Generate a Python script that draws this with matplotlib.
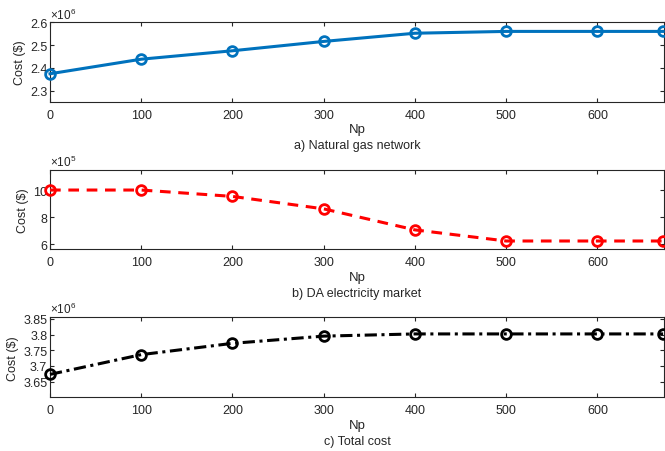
import matplotlib
matplotlib.use('Agg')
import matplotlib.pyplot as plt

plt.rcParams['font.family'] = ['Liberation Sans', 'DejaVu Sans']
plt.rcParams['mathtext.fontset'] = 'custom'
plt.rcParams['mathtext.rm'] = 'Liberation Sans'

# 数据
np_vals = [0, 100, 200, 300, 400, 500, 600, 672]
gas_cost = [2.374, 2.438, 2.475, 2.516, 2.552, 2.560, 2.560, 2.560]      # x1e6
da_cost = [10.0, 10.0, 9.53, 8.61, 7.06, 6.24, 6.24, 6.24]               # x1e5
total_cost = [3.673, 3.736, 3.772, 3.795, 3.802, 3.802, 3.802, 3.802]   # x1e6

x_ticks = [0, 100, 200, 300, 400, 500, 600]
TXT = '#262626'

W, H = 665, 452
fig = plt.figure(figsize=(W / 100, H / 100), dpi=100)


def px_axes(top, bottom, left=50, right=664):
    return fig.add_axes([left / W, 1 - bottom / H, (right - left) / W, (bottom - top) / H])


panels = [
    # top, bottom, data, color, ls, ylim, yticks, ticklabels, exp, np_y, cap_y, caption
    (23.3, 103, gas_cost, '#0072BD', '-', (2.25, 2.6), [2.3, 2.4, 2.5, 2.6],
     ['2.3', '2.4', '2.5', '2.6'], '6', 130, 146, 'a) Natural gas network'),
    (170.7, 250, da_cost, '#FF0000', (0, (3.5, 2.5)), (5.65, 11.5), [6, 8, 10],
     ['6', '8', '10'], '5', 277.7, 294, 'b) DA electricity market'),
    (318.3, 398.3, total_cost, '#000000', (0, (4, 1.5, 1, 1.5)), (3.6, 3.855),
     [3.65, 3.7, 3.75, 3.8, 3.85], ['3.65', '3.7', '3.75', '3.8', '3.85'], '6',
     425.7, 441.7, 'c) Total cost'),
]

for (top, bottom, vals, color, ls, ylim, yt, ytl, exp, np_y, cap_y, cap) in panels:
    ax = px_axes(top, bottom)
    ax.plot(np_vals, vals, color=color, linestyle=ls, linewidth=2.2,
            marker='o', markersize=7, markerfacecolor='none',
            markeredgewidth=2, clip_on=False, zorder=3)
    ax.set_xlim(0, 673)
    ax.set_ylim(*ylim)
    ax.set_xticks(x_ticks)
    ax.set_yticks(yt)
    ax.set_yticklabels(ytl)
    ax.tick_params(direction='in', length=3, width=0.8, colors=TXT,
                   labelsize=9, top=True, right=True)
    ax.tick_params(axis='x', pad=5)
    ax.tick_params(axis='y', pad=2)
    for s in ax.spines.values():
        s.set_color(TXT)
        s.set_linewidth(0.8)
    ax.set_ylabel('Cost ($)', fontsize=9, color=TXT, labelpad=3)
    ax.text(0.0, 1.01, r'$\times10^{%s}$' % exp, transform=ax.transAxes,
            fontsize=8.5, color=TXT, ha='left', va='bottom')
    fig.text(357 / W, 1 - np_y / H, 'Np', ha='center', va='center',
             fontsize=9.5, color=TXT)
    fig.text(357 / W, 1 - cap_y / H, cap, ha='center', va='center',
             fontsize=9, color=TXT)

fig.savefig('out.png', dpi=100, facecolor='white')
